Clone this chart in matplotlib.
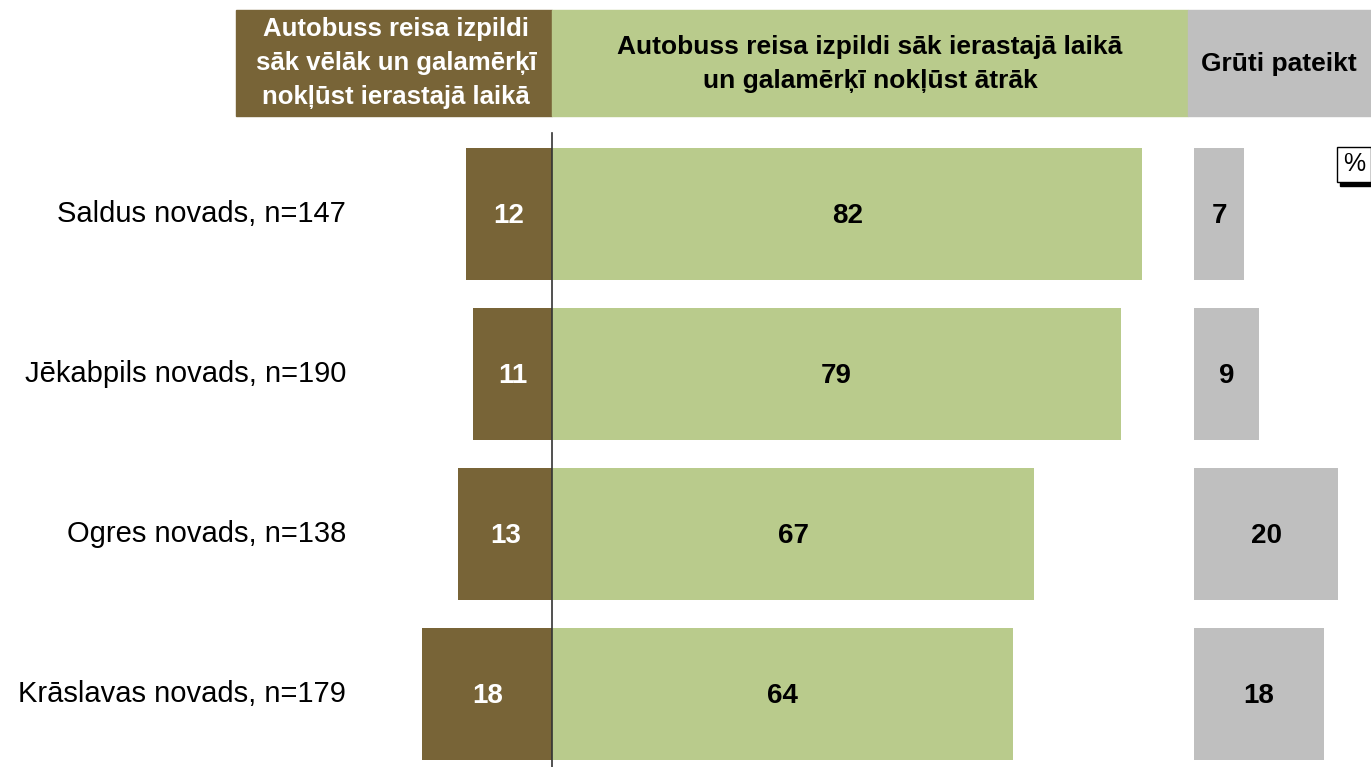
import numpy as np
import matplotlib.pyplot as plt
from matplotlib.patches import Rectangle

plt.rcParams['font.family'] = ['Liberation Sans', 'DejaVu Sans']

# dati
regions = ["Saldus novads, n=147", "Jēkabpils novads, n=190",
           "Ogres novads, n=138", "Krāslavas novads, n=179"]
later = [12, 11, 13, 18]
earlier = [82, 79, 67, 64]
hard_to_say = [7, 9, 20, 18]
headers = ["Autobuss reisa izpildi\nsāk vēlāk un galamērķī\nnokļūst ierastajā laikā",
           "Autobuss reisa izpildi sāk ierastajā laikā\nun galamērķī nokļūst ātrāk",
           "Grūti pateikt"]

c_brown = "#786437"
c_green = "#B9CB8C"
c_gray = "#BFBFBF"

W, H = 1371, 767
fig = plt.figure(figsize=(W / 100, H / 100), dpi=100)
ax = fig.add_axes([0, 0, 1, 1])

px = 7.2          # pikseļi uz 1 %
x0 = 552          # nulles līnija
gray_off = (1194 - x0) / px
ax.set_xlim(-x0 / px, (W - x0) / px)
row_px = 160
ax.set_ylim((H - 214) / row_px, -214 / row_px)
ax.axis("off")

y = np.arange(len(regions))
bh = 132 / row_px
ax.barh(y, -np.array(later), height=bh, color=c_brown)
ax.barh(y, earlier, height=bh, color=c_green)
ax.barh(y, hard_to_say, left=gray_off, height=bh, color=c_gray)

for i in range(len(regions)):
    ax.text(-later[i] / 2, y[i] + 0.01, str(later[i]), ha="center", va="center",
            color="white", fontsize=20, fontweight="bold")
    ax.text(earlier[i] / 2, y[i] + 0.01, str(earlier[i]), ha="center", va="center",
            color="black", fontsize=20, fontweight="bold")
    ax.text(gray_off + hard_to_say[i] / 2, y[i] + 0.01, str(hard_to_say[i]),
            ha="center", va="center", color="black", fontsize=20, fontweight="bold")
    ax.text((346 - x0) / px, y[i], regions[i], ha="right", va="center",
            fontsize=21, color="black")

ax.plot([0, 0], [(133 - 214) / row_px, (H - 214) / row_px], color="#333333", lw=1.2)

# galvenes
def fig_rect(x1, x2, y1, y2, color):
    fig.patches.append(Rectangle((x1 / W, 1 - y2 / H), (x2 - x1) / W, (y2 - y1) / H,
                                 transform=fig.transFigure, color=color, zorder=0))

fig_rect(236, 552, 10, 116, c_brown)
fig_rect(552, 1188, 10, 116, c_green)
fig_rect(1188, W, 10, 116, c_gray)
fig.text(396 / W, 1 - 63 / H, headers[0], ha="center", va="center", color="white",
         fontsize=18.5, fontweight="bold", linespacing=1.52)
fig.text(870 / W, 1 - 64 / H, headers[1], ha="center", va="center", color="black",
         fontsize=19, fontweight="bold", linespacing=1.5)
fig.text(1279 / W, 1 - 64 / H, headers[2], ha="center", va="center", color="black",
         fontsize=19, fontweight="bold")

# % lodziņš
fig_rect(1340, W, 180, 186, "black")
fig.text(1354 / W, 1 - 164 / H, "%", ha="center", va="center", fontsize=18,
         bbox=dict(boxstyle="square,pad=0.22", fc="white", ec="black", lw=1))

fig.savefig("out.png", dpi=100)
